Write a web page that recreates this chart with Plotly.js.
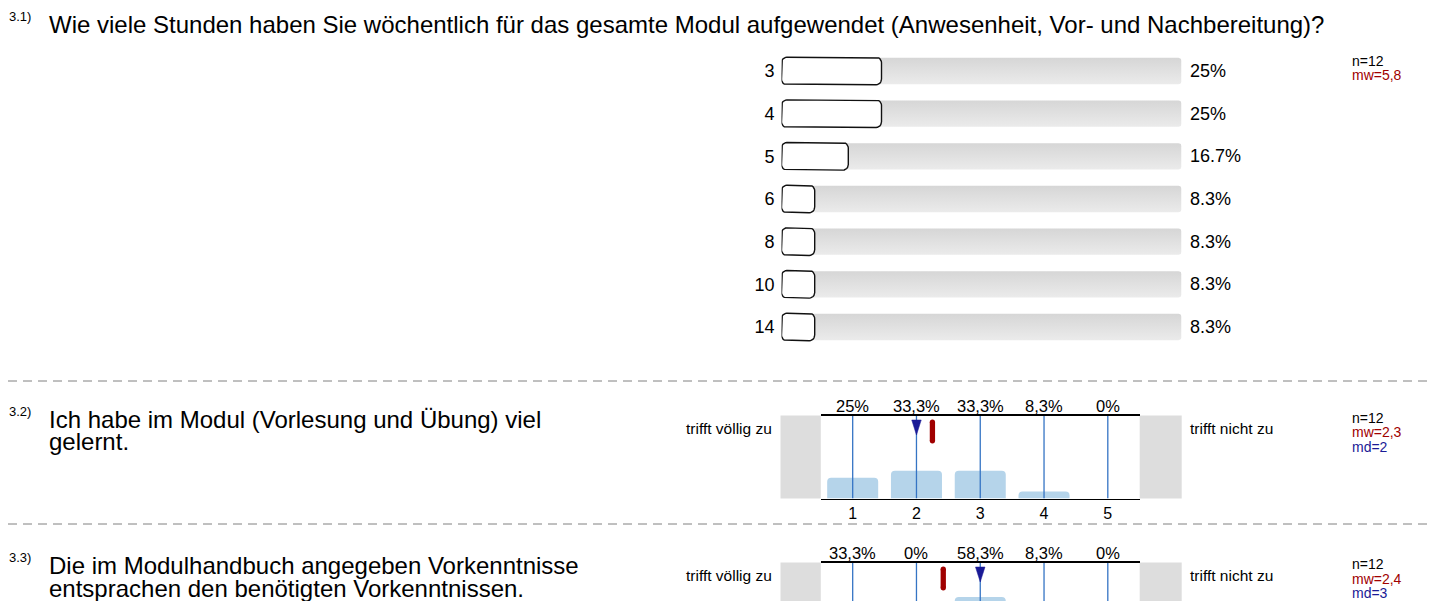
<!DOCTYPE html>
<html><head><meta charset="utf-8">
<script src="https://cdn.plot.ly/plotly-3.0.1.min.js"></script>
<style>html,body{margin:0;padding:0;background:#fff;}#chart{width:1431px;height:601px;}</style>
</head><body><div id="chart"></div>
<script>
// ---------- data ----------
const q1Number = "3.1)";
const q1Text = "Wie viele Stunden haben Sie wöchentlich für das gesamte Modul aufgewendet (Anwesenheit, Vor- und Nachbereitung)?";
const q1Categories = ["3", "4", "5", "6", "8", "10", "14"];
const q1Percent = [25, 25, 16.7, 8.3, 8.3, 8.3, 8.3];
const q1N = 12;
const q1Mean = 5.75;

const scaleValues = [1, 2, 3, 4, 5];
const leftLabel = "trifft völlig zu";
const rightLabel = "trifft nicht zu";

const q2Number = "3.2)";
const q2TextLines = ["Ich habe im Modul (Vorlesung und Übung) viel", "gelernt."];
const q2Percent = [25, 33.3, 33.3, 8.3, 0];
const q2N = 12;
const q2Mean = 2.25;
const q2Median = 2;

const q3Number = "3.3)";
const q3TextLines = ["Die im Modulhandbuch angegeben Vorkenntnisse", "entsprachen den benötigten Vorkenntnissen."];
const q3Percent = [33.3, 0, 58.3, 8.3, 0];
const q3N = 12;
const q3Mean = 2.42;
const q3Median = 3;

// ---------- helpers ----------
const W = 1431, H = 601;
const px = x => x / W;
const py = y => 1 - y / H;
const FONT = "Liberation Sans, Arial, sans-serif";
const RED = "#a00000", NAVY = "#1a1a96", LINEBLUE = "#3574c4", BARBLUE = "#b5d4ea", SIDEGRAY = "#dddddd";
const fmtDot = v => (Math.round(v * 10) / 10).toString() + "%";
const fmtComma = v => (Math.round(v * 10) / 10).toString().replace(".", ",") + "%";
const meanStr = v => v.toFixed(1).replace(".", ",");

// chart 1 geometry
const C1X0 = 781.5, C1X1 = 1181.5, C1Y0 = 49.67, C1Y1 = 348.33;
const c1sx = (C1X1 - C1X0) / 100;
const c1sy = (C1Y1 - C1Y0) / q1Categories.length;
const idx = q1Categories.map((c, i) => i);

// scale-chart geometry (pixels)
const SX0 = 820.8, SX1 = 1139.7, GL0 = 780.5, GR1 = 1181.7;
const PLOT_H = 83;
const c2Top = 415.5, c3Top = 562.5;
const c3RangeLow = 100 - (H - c3Top) / PLOT_H * 100;
const yFromTop = d => 100 - d / PLOT_H * 100;
const unitPx = (SX1 - SX0) / 5;

function roundedRect(x0, x1, y0, y1, rx, ry, steps) {
  const xs = [], ys = [];
  const corners = [[x1 - rx, y1 - ry, 0], [x0 + rx, y1 - ry, 90], [x0 + rx, y0 + ry, 180], [x1 - rx, y0 + ry, 270]];
  corners.forEach(([cx, cy, a0]) => {
    for (let k = 0; k <= steps; k++) {
      const a = (a0 + 90 * k / steps) * Math.PI / 180;
      xs.push(cx + rx * Math.cos(a)); ys.push(cy + ry * Math.sin(a));
    }
  });
  xs.push(xs[0]); ys.push(ys[0]);
  return {xs, ys};
}

const traces = [];
// Chart 1: grey tracks (100 %) and white percentage boxes
idx.forEach(i => {
  const hh = 13.2 / c1sy;
  const r = roundedRect(0, 100, i - hh, i + hh, 3 / c1sx, 3 / c1sy, 5);
  traces.push({type: "scatter", mode: "lines", x: r.xs, y: r.ys, xaxis: "x", yaxis: "y",
    fill: "toself", fillcolor: "#e0e0e0",
    fillgradient: {type: "vertical", colorscale: [[0, "#ebebeb"], [1, "#d6d6d6"]]},
    line: {width: 0, color: "#e0e0e0"}, hoverinfo: "skip"});
});
idx.forEach(i => {
  const hh = 13.8 / c1sy;
  const r = roundedRect(0, q1Percent[i], i - hh, i + hh, 5.5 / c1sx, 5.5 / c1sy, 6);
  traces.push({type: "scatter", mode: "lines", x: r.xs, y: r.ys, xaxis: "x", yaxis: "y",
    fill: "toself", fillcolor: "#ffffff", line: {width: 1.4, color: "#111"}, hoverinfo: "skip"});
});

function scaleTraces(percent, mean, median, xa, ya) {
  const out = [];
  out.push({type: "bar", x: scaleValues, y: percent, xaxis: xa, yaxis: ya, width: 0.8,
    marker: {color: BARBLUE, cornerradius: 4, line: {width: 0}}, hoverinfo: "skip"});
  const lx = [], ly = [];
  scaleValues.forEach(v => { lx.push(v, v, null); ly.push(0, 100, null); });
  out.push({type: "scatter", mode: "lines", x: lx, y: ly, xaxis: xa, yaxis: ya,
    line: {color: LINEBLUE, width: 1.3}, hoverinfo: "skip"});
  const hw = 4.75 / unitPx;
  out.push({type: "scatter", mode: "lines", fill: "toself", fillcolor: NAVY,
    x: [median - hw, median + hw, median, median - hw],
    y: [yFromTop(4.5), yFromTop(4.5), yFromTop(19.5), yFromTop(4.5)],
    xaxis: xa, yaxis: ya, line: {color: NAVY, width: 0.5}, hoverinfo: "skip"});
  out.push({type: "scatter", mode: "lines+markers", x: [mean, mean],
    y: [yFromTop(6.6), yFromTop(25.3)], xaxis: xa, yaxis: ya,
    line: {color: RED, width: 5.3}, marker: {color: RED, size: 5.3, symbol: "circle"}, hoverinfo: "skip"});
  return out;
}
traces.push(...scaleTraces(q2Percent, q2Mean, q2Median, "x2", "y2"));
traces.push(...scaleTraces(q3Percent, q3Mean, q3Median, "x3", "y3"));

// ---------- annotations ----------
const ann = [];
const txt = (x, y, text, size, opts = {}) => ann.push(Object.assign({
  xref: "paper", yref: "paper", x: px(x), y: py(y), text: text, showarrow: false,
  xanchor: "left", yanchor: "middle", font: {family: FONT, size: size, color: "#000"}
}, opts));

// question texts
txt(7, 17, q1Number, 13);
txt(47, 25, q1Text, 24);
txt(7, 412, q2Number, 13);
txt(47, 419, q2TextLines[0], 24);
txt(47, 441.5, q2TextLines[1], 24);
txt(7, 557, q3Number, 13);
txt(47, 565.5, q3TextLines[0], 24);
txt(47, 588, q3TextLines[1], 24);

// chart 1 percent labels
idx.forEach(i => ann.push({
  xref: "x", yref: "y", x: 100, y: i, text: fmtDot(q1Percent[i]), showarrow: false,
  xanchor: "left", yanchor: "middle", xshift: 6, font: {family: FONT, size: 18, color: "#000"}
}));

// stats
function stats(y0, n, mean, median) {
  txt(1350, y0, "n=" + n, 14);
  txt(1350, y0 + 14.5, "mw=" + meanStr(mean), 14, {font: {family: FONT, size: 14, color: RED}});
  if (median !== undefined) txt(1350, y0 + 29, "md=" + median, 14, {font: {family: FONT, size: 14, color: NAVY}});
}
stats(60.5, q1N, q1Mean);
stats(417.5, q2N, q2Mean, q2Median);
stats(564, q3N, q3Mean, q3Median);

// scale chart side labels and percent labels
function scaleLabels(top, percent, xa) {
  txt(774, top + 12.5, leftLabel, 15.5, {xanchor: "right"});
  txt(1188, top + 12.5, rightLabel, 15.5);
  scaleValues.forEach((v, i) => ann.push({
    xref: xa, yref: "paper", x: v, y: py(top - 10), text: fmtComma(percent[i]), showarrow: false,
    xanchor: "center", yanchor: "middle", font: {family: FONT, size: 16.5, color: "#000"}
  }));
}
scaleLabels(c2Top, q2Percent, "x2");
scaleLabels(c3Top, q3Percent, "x3");

// ---------- shapes ----------
const shapes = [];
[381, 524].forEach(y => shapes.push({type: "line", xref: "paper", yref: "paper",
  x0: px(8), x1: 1, y0: py(y), y1: py(y), line: {color: "#808080", width: 1, dash: "9px,6px"}}));
function sideBoxes(top, bottom) {
  [[GL0, SX0], [SX1, GR1]].forEach(([a, b]) => shapes.push({type: "rect", xref: "paper", yref: "paper",
    x0: px(a), x1: px(b), y0: py(bottom), y1: py(top), fillcolor: SIDEGRAY, line: {width: 0}, layer: "below"}));
}
sideBoxes(c2Top, c2Top + PLOT_H);
sideBoxes(c3Top, H);

const hidden = {visible: false, showgrid: false, zeroline: false, fixedrange: true};
const layout = {
  width: W, height: H, margin: {l: 0, r: 0, t: 0, b: 0},
  paper_bgcolor: "#fff", plot_bgcolor: "rgba(0,0,0,0)",
  showlegend: false, font: {family: FONT, color: "#000"},
  xaxis: Object.assign({}, hidden, {domain: [px(C1X0), px(C1X1)], range: [0, 100], anchor: "y"}),
  yaxis: {domain: [py(C1Y1), py(C1Y0)], range: [q1Categories.length - 0.5, -0.5], anchor: "x",
    tickvals: idx, ticktext: q1Categories,
    showgrid: false, zeroline: false, showline: false, ticks: "", ticklabelstandoff: 6,
    tickfont: {family: FONT, size: 18, color: "#000"}},
  xaxis2: {domain: [px(SX0), px(SX1)], range: [0.5, 5.5], anchor: "y2", tickvals: scaleValues,
    ticks: "", showgrid: false, zeroline: false, showline: true, mirror: true,
    linecolor: "#000", linewidth: 1.5, tickfont: {family: FONT, size: 16, color: "#000"}},
  yaxis2: Object.assign({}, hidden, {domain: [py(c2Top + PLOT_H), py(c2Top)], range: [0, 100], anchor: "x2"}),
  xaxis3: {domain: [px(SX0), px(SX1)], range: [0.5, 5.5], anchor: "y3", side: "top", tickvals: scaleValues,
    ticks: "", showticklabels: false, showgrid: false, zeroline: false, showline: true,
    linecolor: "#000", linewidth: 1.5},
  yaxis3: Object.assign({}, hidden, {domain: [0, py(c3Top)], range: [c3RangeLow, 100], anchor: "x3"}),
  annotations: ann, shapes: shapes
};
Plotly.newPlot("chart", traces, layout, {staticPlot: true, displayModeBar: false});
</script></body></html>
